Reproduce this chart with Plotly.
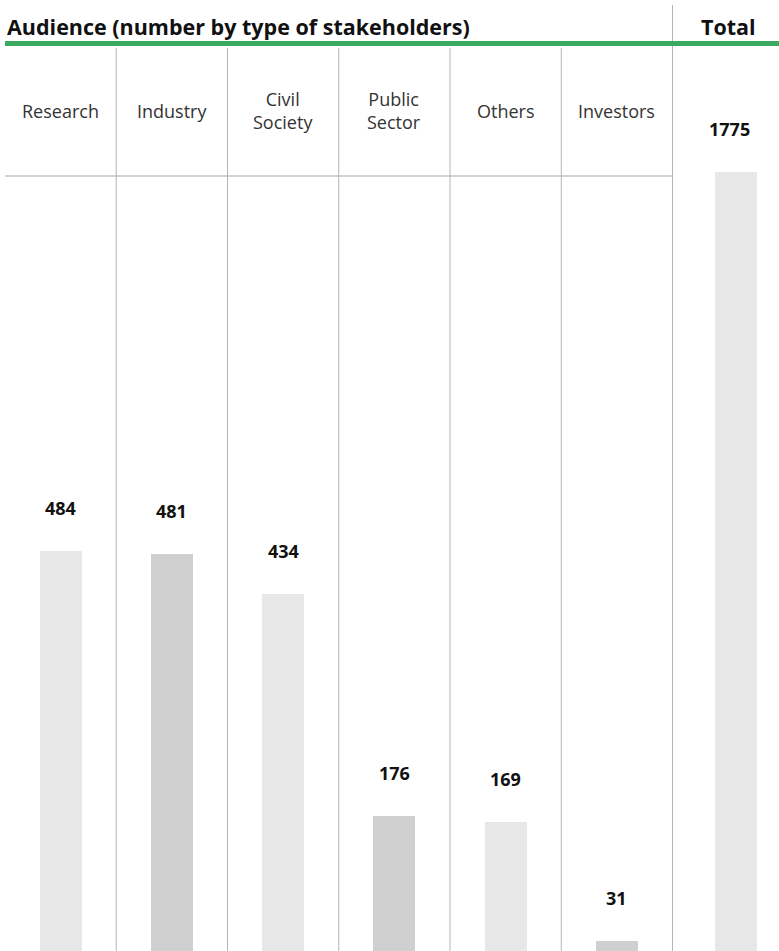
import plotly.graph_objects as go

categories = ["Research", "Industry", "Civil Society", "Public Sector", "Others", "Investors"]
category_labels = ["Research", "Industry", "Civil<br>Society", "Public<br>Sector", "Others", "Investors"]
values = [484, 481, 434, 176, 169, 31]
total_label = "Total"
total_value = [1775]
title_text = "Audience (number by type of stakeholders)"

W, H = 779, 951
LIGHT = "#e7e7e7"
DARK = "#cfcfcf"
bar_colors = [LIGHT if i % 2 == 0 else DARK for i in range(len(categories))]

x0_px, xdiv_px = 5, 672.5
col_w = (xdiv_px - x0_px) / len(categories)

fig = go.Figure()
fig.add_trace(go.Bar(x=categories, y=values, marker=dict(color=bar_colors, line=dict(width=0)),
                     width=42 / col_w, xaxis="x", yaxis="y", hoverinfo="x+y"))
fig.add_trace(go.Bar(x=[total_label], y=total_value, marker=dict(color=LIGHT, line=dict(width=0)),
                     width=42 / (W - xdiv_px), xaxis="x2", yaxis="y2", hoverinfo="x+y"))

px1 = 0.8609
base_px = 967.7
px2 = (base_px - 172) / total_value[0]

fig.update_layout(
    width=W, height=H, margin=dict(l=0, r=0, t=0, b=0),
    paper_bgcolor="white", plot_bgcolor="white", showlegend=False, bargap=0,
    font=dict(family="Open Sans", color="#222"),
    xaxis=dict(domain=[x0_px / W, xdiv_px / W], range=[-0.5, len(categories) - 0.5],
               visible=False, type="category", categoryorder="array", categoryarray=categories),
    yaxis=dict(domain=[0, 1], range=[(base_px - H) / px1, base_px / px1], visible=False),
    xaxis2=dict(domain=[xdiv_px / W, 1], range=[-(735 - xdiv_px) / (W - xdiv_px), (W - 735) / (W - xdiv_px)],
                visible=False, type="category", anchor="y2"),
    yaxis2=dict(domain=[0, 1], range=[(base_px - H) / px2, base_px / px2], visible=False, anchor="x2"),
)

shapes = []
# green header rule
shapes.append(dict(type="rect", xref="paper", yref="paper", x0=5 / W, x1=1, y0=1 - 46 / H, y1=1 - 41 / H,
                   fillcolor="#3aaa60", line=dict(width=0), layer="above"))
# horizontal rule under the labels
shapes.append(dict(type="line", xref="paper", yref="paper", x0=5 / W, x1=xdiv_px / W,
                   y0=1 - 176 / H, y1=1 - 176 / H, line=dict(color="#d2d2d2", width=2), layer="below"))
# column dividers
for k in range(1, len(categories)):
    xp = (x0_px + k * col_w) / W
    shapes.append(dict(type="line", xref="paper", yref="paper", x0=xp, x1=xp, y0=0, y1=1 - 48 / H,
                       line=dict(color="#b5b5b5", width=1), layer="below"))
shapes.append(dict(type="line", xref="paper", yref="paper", x0=xdiv_px / W, x1=xdiv_px / W, y0=0, y1=1 - 5 / H,
                   line=dict(color="#b5b5b5", width=1), layer="below"))
fig.update_layout(shapes=shapes)

ann = []
ann.append(dict(text="<b>" + title_text + "</b>", xref="paper", yref="paper", x=5 / W, y=1 - 26 / H,
                xanchor="left", yanchor="middle", showarrow=False, font=dict(size=21.5, color="#111")))
ann.append(dict(text="<b>" + total_label + "</b>", xref="x2", yref="paper", x=total_label, y=1 - 26 / H,
                xshift=-7, xanchor="center", yanchor="middle", showarrow=False, font=dict(size=21.5, color="#111")))
for c, lab in zip(categories, category_labels):
    ann.append(dict(text=lab, xref="x", yref="paper", x=c, y=1 - 111 / H, xanchor="center", yanchor="middle",
                    showarrow=False, font=dict(size=18, color="#333")))
for c, v in zip(categories, values):
    ann.append(dict(text="<b>%d</b>" % v, xref="x", yref="y", x=c, y=v, yshift=43, xanchor="center",
                    yanchor="middle", showarrow=False, font=dict(size=18, color="#111")))
ann.append(dict(text="<b>%d</b>" % total_value[0], xref="x2", yref="y2", x=total_label, y=total_value[0],
                yshift=43, xshift=-6, xanchor="center", yanchor="middle", showarrow=False,
                font=dict(size=18, color="#111")))
fig.update_layout(annotations=ann)

fig.write_html("out.html")
